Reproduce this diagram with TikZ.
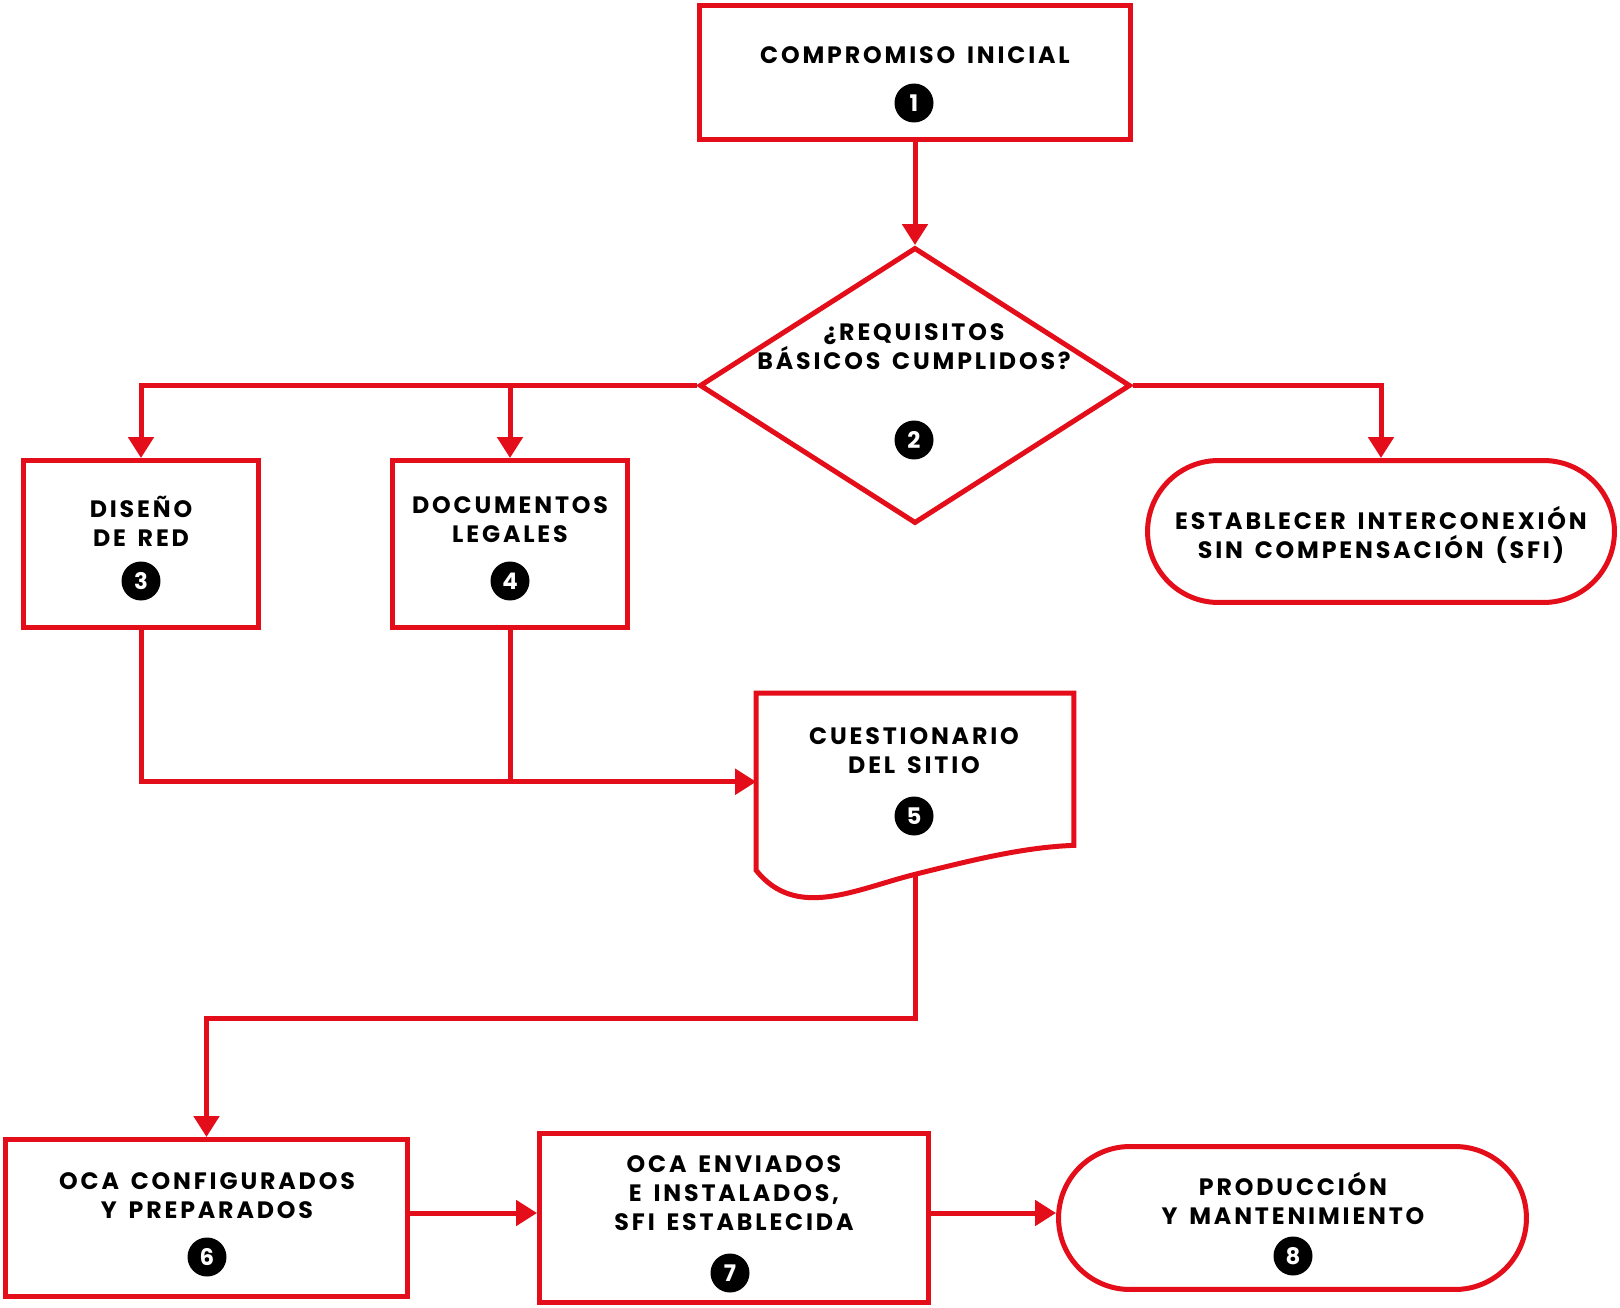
\documentclass[tikz,border=0pt]{standalone}
\usepackage{fontspec}
\setmainfont{Poppins}[LetterSpace=12, WordSpace=1.5]
\newfontfamily\numfont{Poppins}
\usetikzlibrary{shapes.geometric, shapes.misc, arrows.meta, calc}
\definecolor{ocared}{RGB}{228,14,26}

\begin{document}
\begin{tikzpicture}[
  x = 0.02cm, y = -0.02cm,
  every node/.style = {font=\fontsize{13.5}{16.5}\selectfont\bfseries},
  procbox/.style  = {rectangle, draw=ocared, line width=0.1cm, inner sep=0pt},
  decision/.style = {diamond, draw=ocared, line width=0.1cm, inner sep=0pt, minimum width=8.62cm, minimum height=5.52cm},
  terminal/.style = {rounded rectangle, draw=ocared, line width=0.1cm, inner sep=0pt},
  caption/.style  = {align=center, inner sep=0pt},
  badge/.style    = {circle, fill=black, text=white, minimum size=0.78cm, inner sep=0pt, font=\numfont\fontsize{13}{13}\selectfont\bfseries},
  arr/.style      = {-{Triangle[length=0.42cm, width=0.5cm]}, line width=0.1cm, draw=ocared},
  link/.style     = {line width=0.1cm, draw=ocared}
]
\path[use as bounding box, fill=white] (0,0) rectangle (1620,1308);

% top: start and decision
\node[procbox, minimum width=8.62cm, minimum height=2.68cm] (b1) at (915,72.5) {};
\node[caption] (t1) at (915,55) {COMPROMISO INICIAL};
\node[badge] (n1) at (914,103) {1};
\node[decision] (dec) at (915,385.5) {};
\node[caption] (t2) at (914,346.5) {¿REQUISITOS\\BÁSICOS CUMPLIDOS?};
\node[badge] (n2) at (914,440) {2};

% branches
\node[procbox, minimum width=4.70cm, minimum height=3.34cm] (b3) at (141,544) {};
\node[caption] (t3) at (141,521.5) {DISEÑO\\DE RED};
\node[badge] (n3) at (141,581) {3};
\node[procbox, minimum width=4.70cm, minimum height=3.34cm] (b4) at (510,544) {};
\node[caption] (t4) at (510,519.5) {DOCUMENTOS\\LEGALES};
\node[badge] (n4) at (510,581) {4};
\node[terminal, minimum width=9.34cm, minimum height=2.84cm] (sfi) at (1381,531.5) {};
\node[caption] (tsfi) at (1381,534.5) {ESTABLECER INTERCONEXIÓN\\SIN COMPENSACIÓN (SFI)};

% questionnaire (document shape)
\node[minimum width=6.34cm, minimum height=3.53cm, inner sep=0pt] (doc) at (915,781.75) {};
\coordinate (docout) at ($(doc.south)+(0,4)$);
\draw[link] (doc.south west) -- (doc.north west) -- (doc.north east) -- ($(doc.south east)+(0,-25)$)
  .. controls +(-50,2) and +(60,-15) .. (docout)
  .. controls +(-60,15) and +(40,50) .. (doc.south west) -- cycle;
\node[caption] (t5) at (914,750.5) {CUESTIONARIO\\DEL SITIO};
\node[badge] (n5) at (914,816) {5};

% bottom row
\node[procbox, minimum width=8.04cm, minimum height=3.14cm] (b6) at (206.5,1218) {};
\node[caption] (t6) at (207,1195.5) {OCA CONFIGURADOS\\Y PREPARADOS};
\node[badge] (n6) at (207,1257) {6};
\node[procbox, minimum width=7.78cm, minimum height=3.38cm] (b7) at (734,1218) {};
\node[caption] (t7) at (734,1193) {OCA ENVIADOS\\E INSTALADOS,\\SFI ESTABLECIDA};
\node[badge] (n7) at (730,1273) {7};
\node[terminal, minimum width=9.36cm, minimum height=2.86cm] (b8) at (1292.5,1218) {};
\node[caption] (t8) at (1293,1198.5) {PRODUCCIÓN\\Y MANTENIMIENTO};
\node[badge] (n8) at (1293,1256) {8};

% connectors
\draw[arr] (b1.south) -- (dec.north);
\draw[arr] (dec.west) -| (b3.north);
\draw[arr] (dec.west -| b4.north) -- (b4.north);
\draw[arr] (dec.east) -| (sfi.north);
\draw[arr] (b3.south) |- (doc.west);
\draw[link] (b4.south) -- (b4.south |- doc.west);
\coordinate (elbow) at ($(docout)+(0,144)$);
\draw[arr] (docout) -- (elbow) -| (b6.north);
\draw[arr] ($(b6.east)+(0,-5)$) -- ($(b7.west)+(0,-5)$);
\draw[arr] ($(b7.east)+(0,-5)$) -- ($(b8.west)+(0,-5)$);
\end{tikzpicture}
\end{document}
